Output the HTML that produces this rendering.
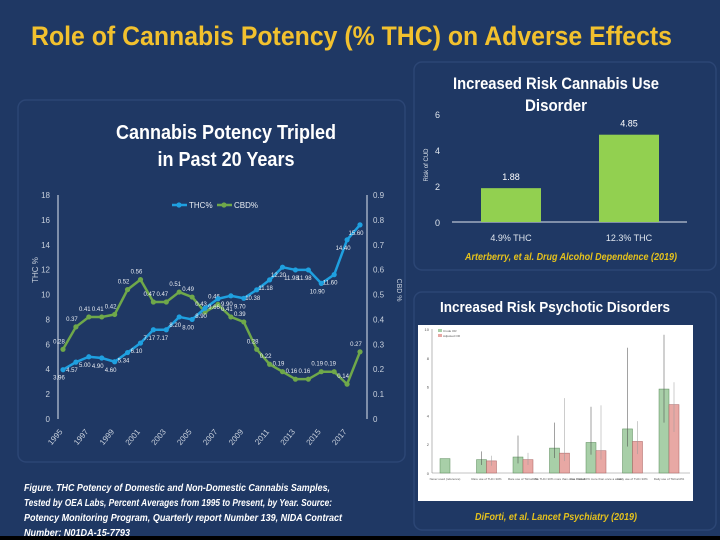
<!DOCTYPE html>
<html><head><meta charset="utf-8"><style>
html,body{margin:0;padding:0;background:#1f3864;}
svg{display:block;font-family:"Liberation Sans",sans-serif;}
</style></head><body>
<svg id="s" width="720" height="540" viewBox="0 0 720 540">
<rect x="0" y="0" width="720" height="540" fill="#1f3864"/>
<rect x="0" y="536" width="720" height="4" fill="#000"/>
<text x="31" y="45" font-size="27" font-weight="bold" fill="#f2c12e" textLength="641" lengthAdjust="spacingAndGlyphs">Role of Cannabis Potency (% THC) on Adverse Effects</text>
<rect x="18" y="100" width="387" height="362" rx="8" fill="none" stroke="#2c4675" stroke-width="1.5"/>
<rect x="414" y="62" width="302" height="208" rx="8" fill="none" stroke="#2c4675" stroke-width="1.5"/>
<rect x="414" y="292" width="302" height="238" rx="8" fill="none" stroke="#2c4675" stroke-width="1.5"/>
<text x="226" y="139" text-anchor="middle" font-size="20" font-weight="bold" fill="#fff" textLength="220" lengthAdjust="spacingAndGlyphs">Cannabis Potency Tripled</text>
<text x="226" y="166" text-anchor="middle" font-size="20" font-weight="bold" fill="#fff" textLength="137" lengthAdjust="spacingAndGlyphs">in Past 20 Years</text>
<g id="lc"></g>
<g id="rc"></g>
<g id="pc"></g>
<text x="24" y="491" font-size="10.5" font-weight="bold" font-style="italic" fill="#fff" textLength="306" lengthAdjust="spacingAndGlyphs">Figure. THC Potency of Domestic and Non-Domestic Cannabis Samples,</text>
<text x="24" y="506" font-size="10.5" font-weight="bold" font-style="italic" fill="#fff" textLength="308" lengthAdjust="spacingAndGlyphs">Tested by OEA Labs, Percent Averages from 1995 to Present, by Year. Source:</text>
<text x="24" y="521" font-size="10.5" font-weight="bold" font-style="italic" fill="#fff" textLength="318" lengthAdjust="spacingAndGlyphs">Potency Monitoring Program, Quarterly report Number 139, NIDA Contract</text>
<text x="24" y="536" font-size="10.5" font-weight="bold" font-style="italic" fill="#fff" textLength="106" lengthAdjust="spacingAndGlyphs">Number: N01DA-15-7793</text>
<text x="556" y="89" text-anchor="middle" font-size="17" font-weight="bold" fill="#fff" textLength="206" lengthAdjust="spacingAndGlyphs">Increased Risk Cannabis Use</text>
<text x="556" y="111" text-anchor="middle" font-size="17" font-weight="bold" fill="#fff" textLength="62" lengthAdjust="spacingAndGlyphs">Disorder</text>
<text x="571" y="260" text-anchor="middle" font-size="10.5" font-weight="bold" font-style="italic" fill="#e6c21c" textLength="212" lengthAdjust="spacingAndGlyphs">Arterberry, et al. Drug Alcohol Dependence (2019)</text>
<text x="555" y="312" text-anchor="middle" font-size="15" font-weight="bold" fill="#fff" textLength="230" lengthAdjust="spacingAndGlyphs">Increased Risk Psychotic Disorders</text>
<text x="556" y="520" text-anchor="middle" font-size="10.5" font-weight="bold" font-style="italic" fill="#e6c21c" textLength="162" lengthAdjust="spacingAndGlyphs">DiForti, et al. Lancet Psychiatry (2019)</text>
</svg>
<script>
const NS="http://www.w3.org/2000/svg";
function mk(p,t,a,txt){const e=document.createElementNS(NS,t);for(const k in a)e.setAttribute(k,a[k]);if(txt!==undefined)e.textContent=txt;p.appendChild(e);return e;}
// ---- line chart data ----
const years=["1995","1996","1997","1998","1999","2000","2001","2002","2003","2004","2005","2006","2007","2008","2009","2010","2011","2012","2013","2014","2015","2016","2017","2018"];
const thc=[3.96,4.57,5.0,4.9,4.6,5.34,6.1,7.17,7.17,8.2,8.0,8.9,9.66,9.9,9.7,10.38,11.18,12.2,11.98,11.98,10.9,11.6,14.4,15.6];
const cbd=[0.28,0.37,0.41,0.41,0.42,0.52,0.56,0.47,0.47,0.51,0.49,0.43,0.46,0.41,0.39,0.28,0.22,0.19,0.16,0.16,0.19,0.19,0.14,0.27];
const yTicksL=[0,2,4,6,8,10,12,14,16,18];
const yTicksR=[0,0.1,0.2,0.3,0.4,0.5,0.6,0.7,0.8,0.9];
const lc=document.getElementById('lc');
const X0=63,X1=360,Y0=419,Y1=195;
const xs=i=>X0+(X1-X0)*i/(years.length-1);
const yl=v=>Y0-(Y0-Y1)*v/18;
const yr=v=>Y0-(Y0-Y1)*v/0.9;
mk(lc,'line',{x1:58,y1:195,x2:58,y2:419,stroke:'#dfe6f0','stroke-width':1,});
mk(lc,'line',{x1:367,y1:195,x2:367,y2:419,stroke:'#dfe6f0','stroke-width':1,});
yTicksL.forEach(v=>{const t=mk(lc,'text',{x:50,y:yl(v)+3,'text-anchor':'end','font-size':8,fill:'#c8d0dc'},String(v));

});
yTicksR.forEach(v=>{const t=mk(lc,'text',{x:373,y:yr(v)+3,'font-size':8,fill:'#c8d0dc'},v===0?'0':v.toFixed(1));

});
years.forEach((y,i)=>{if(i%2||i>22)return;const x=xs(i),yy=432;const t=mk(lc,'text',{x:x,y:yy,'text-anchor':'end','font-size':8,fill:'#c8d0dc',transform:`rotate(-50 ${x} ${yy})`},y);

});
let t1=mk(lc,'text',{x:38,y:270,'text-anchor':'middle','font-size':8,fill:'#c8d0dc',transform:'rotate(-90 38 270)'},'THC %');


let t2=mk(lc,'text',{x:397,y:290,'text-anchor':'middle','font-size':7,fill:'#c8d0dc',transform:'rotate(90 397 290)'},'CBD %');


function series(vals,yf,col,name){
 const p=mk(lc,'polyline',{points:vals.map((v,i)=>xs(i)+','+yf(v)).join(' '),fill:'none',stroke:col,'stroke-width':2.5});
 
 
 vals.forEach((v,i)=>{const c=mk(lc,'circle',{cx:xs(i),cy:yf(v),r:2.6,fill:col});
 
 
 const l=mk(lc,'text',{x:xs(i)-4,y:yf(v)+(name==='thc'?10:-6),'font-size':6,fill:'#e8ecf2','text-anchor':'middle'},v.toFixed(2));
 
 });
}
series(cbd,yr,'#6fa84a','cbd');
series(thc,yl,'#1fa0e0','thc');
// legend
let lg=mk(lc,'g',{});


mk(lg,'line',{x1:172,y1:205,x2:187,y2:205,stroke:'#1fa0e0','stroke-width':2.5});
mk(lg,'circle',{cx:179,cy:205,r:2.6,fill:'#1fa0e0'});
mk(lg,'text',{x:189,y:208,'font-size':8,fill:'#e8ecf2'},'THC%');
mk(lg,'line',{x1:217,y1:205,x2:232,y2:205,stroke:'#6fa84a','stroke-width':2.5});
mk(lg,'circle',{cx:224,cy:205,r:2.6,fill:'#6fa84a'});
mk(lg,'text',{x:234,y:208,'font-size':8,fill:'#e8ecf2'},'CBD%');
// ---- CUD bar chart ----
const cudCats=["4.9% THC","12.3% THC"];
const cudVals=[1.88,4.85];
const cudTicks=[0,2,4,6];
const rc=document.getElementById('rc');
const ry=v=>222-18*v;
mk(rc,'line',{x1:452,y1:222,x2:687,y2:222,stroke:'#e0e6ee','stroke-width':1});
cudTicks.forEach(v=>{const t=mk(rc,'text',{x:440,y:ry(v)+4,'text-anchor':'end','font-size':9,fill:'#e0e6ee'},String(v));

});
let rt=mk(rc,'text',{x:428,y:165,'text-anchor':'middle','font-size':6,fill:'#e0e6ee',transform:'rotate(-90 428 165)'},'Risk of CUD');


cudVals.forEach((v,i)=>{const cx=511+118*i;
 const b=mk(rc,'rect',{x:cx-30,y:ry(v),width:60,height:18*v,fill:'#92d050'});
 
 
 const l=mk(rc,'text',{x:cx,y:ry(v)-8,'text-anchor':'middle','font-size':9,fill:'#fff'},v.toFixed(2));
 
 
 const c=mk(rc,'text',{x:cx,y:241,'text-anchor':'middle','font-size':9,fill:'#e0e6ee'},cudCats[i]);
 
 });
// ---- psychotic disorders chart ----
const psyCats=["Never used (reference)","Rare use of THC<10%","Rare use of THC≥10%","Use THC<10% more than once a week","Use THC≥10% more than once a week","Daily use of THC<10%","Daily use of THC≥10%"];
const crude=[1,0.93,1.11,1.73,2.12,3.06,5.83];
const adjusted=[null,0.84,0.93,1.38,1.55,2.19,4.75];
const crudeHi=[null,1.5,2.6,3.5,4.6,8.7,9.6];
const adjHi=[null,1.2,1.4,5.2,4.7,3.6,6.3];
const psyTicks=[0,2,4,6,8,10];
const pc=document.getElementById('pc');
let pn=mk(pc,'rect',{x:418,y:325,width:275,height:176,fill:'#fff'});


const py=v=>473-14.4*v;
mk(pc,'line',{x1:432,y1:329,x2:432,y2:473,stroke:'#888','stroke-width':0.6});
mk(pc,'line',{x1:432,y1:473,x2:690,y2:473,stroke:'#888','stroke-width':0.6});
psyTicks.forEach(v=>{const t=mk(pc,'text',{x:429,y:py(v)+2,'text-anchor':'end','font-size':4,fill:'#555'},String(v));

});
psyCats.forEach((c,i)=>{const cx=450+36.5*i;
 const bx=i?cx-10:445-5;
 const b=mk(pc,'rect',{x:bx,y:py(crude[i]),width:10,height:14.4*crude[i],fill:'#a8cfa8',stroke:'#5a8a5a','stroke-width':0.5});
 
 
 if(crudeHi[i]!==null){const e=mk(pc,'line',{x1:bx+5,y1:py(crudeHi[i]),x2:bx+5,y2:py(crude[i]*0.6),stroke:'#444','stroke-width':0.5});
 
 }
 if(adjusted[i]!==null){const a0=cx;
  const r=mk(pc,'rect',{x:a0,y:py(adjusted[i]),width:10,height:14.4*adjusted[i],fill:'#e8a8a4',stroke:'#a86060','stroke-width':0.5});
  
  
  const e=mk(pc,'line',{x1:a0+5,y1:py(adjHi[i]),x2:a0+5,y2:py(adjusted[i]*0.6),stroke:'#999','stroke-width':0.5});
  
  }
 const l=mk(pc,'text',{x:i?cx:445,y:480,'text-anchor':'middle','font-size':3,fill:'#555'},c);
 
 });
mk(pc,'rect',{x:438,y:329,width:4,height:3,fill:'#a8cfa8'});
mk(pc,'text',{x:443,y:332,'font-size':3,fill:'#555'},'Crude OR');
mk(pc,'rect',{x:438,y:334,width:4,height:3,fill:'#e8a8a4'});
mk(pc,'text',{x:443,y:337,'font-size':3,fill:'#555'},'Adjusted OR');
</script>
</body></html>
